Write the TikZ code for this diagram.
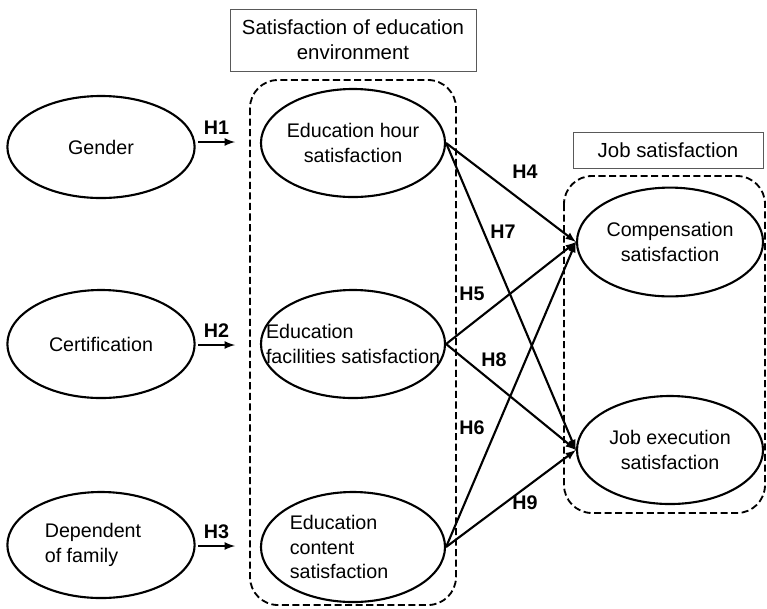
\documentclass[tikz,border=0pt]{standalone}
\usepackage{fontspec}
\setmainfont{Liberation Sans}
\usetikzlibrary{shapes.geometric, arrows}
\usetikzlibrary{positioning}

\tikzset{
  var/.style={draw, ellipse, line width=1.5pt, minimum width=4.6cm, minimum height=2.7cm},
  txt/.style={label={[align=center, font=\fontsize{14}{17.5}\selectfont]center:#1}},
  txtl/.style={label={[align=left, font=\fontsize{14}{17.5}\selectfont]center:#1}},
  grp/.style={draw, line width=1.3pt, dash pattern=on 5pt off 2.5pt, rounded corners=0.7cm},
  ttl/.style={draw, gray!70!black, text=black, align=center, font=\fontsize{14.5}{17.5}\selectfont, inner sep=0pt},
  hyp/.style={font=\bfseries\fontsize{14}{16}\selectfont},
  conn/.style={line width=1.5pt, ->, >=latex}
}

\begin{document}
\begin{tikzpicture}[x=0.025cm, y=-0.025cm]
\useasboundingbox (0,0) rectangle (767,608);
% groups
\draw[grp] (250,80) rectangle (456,605);
\draw[grp] (564,176) rectangle (765,513);
\node[ttl, minimum width=6.15cm, minimum height=1.55cm] (envtitle) at (353,40) {Satisfaction of education\\environment};
\node[ttl, minimum width=4.75cm, minimum height=0.9cm] (jobtitle) at (668,150) {Job satisfaction};
% variables
\node[var, minimum width=4.68cm, minimum height=2.55cm, txt=Gender] (gender) at (101,147) {};
\node[var, minimum width=4.68cm, minimum height=2.7cm, txt=Certification] (cert) at (101,344) {};
\node[var, minimum width=4.68cm, minimum height=2.65cm, label={[align=left, font=\fontsize{14}{17.5}\selectfont, xshift=-0.2cm]center:Dependent\\of family}] (family) at (101,545) {};
\node[var, txt={Education hour\\satisfaction}] (hour) at (353,143) {};
\node[var, txtl={Education\\facilities satisfaction}] (facil) at (353,344) {};
\node[var, minimum height=2.75cm, label={[align=left, font=\fontsize{14}{17.5}\selectfont, xshift=-0.35cm]center:Education\\content\\satisfaction}] (content) at (353,547) {};
\node[var, minimum width=4.65cm, minimum height=2.72cm, txt={Compensation\\satisfaction}] (comp) at (670,242) {};
\node[var, minimum width=4.65cm, txt={Job execution\\satisfaction}] (exec) at (670,450) {};
% H1-H3
\coordinate (a1) at (198,142); \coordinate (b1) at (235,142);
\coordinate (a2) at (198,345); \coordinate (b2) at (235,345);
\coordinate (a3) at (198,546); \coordinate (b3) at (235,546);
\draw[conn] (a1) -- (b1) node[midway, above=1pt, hyp] {H1};
\draw[conn] (a2) -- (b2) node[midway, above=1pt, hyp] {H2};
\draw[conn] (a3) -- (b3) node[midway, above=1pt, hyp] {H3};
% H4-H9
\draw[conn] (hour.east) -- (comp.west);
\draw[conn] (hour.east) -- (exec.west);
\draw[conn] (facil.east) -- (comp.west);
\draw[conn] (facil.east) -- (exec.west);
\draw[conn] (content.east) -- (comp.west);
\draw[conn] (content.east) -- (exec.west);
\node[hyp] (h4) at (525,172) {H4};
\node[hyp] (h7) at (503,232) {H7};
\node[hyp] (h5) at (472,294) {H5};
\node[hyp] (h8) at (494,360) {H8};
\node[hyp] (h6) at (472,428) {H6};
\node[hyp] (h9) at (525,503) {H9};
\end{tikzpicture}
\end{document}
